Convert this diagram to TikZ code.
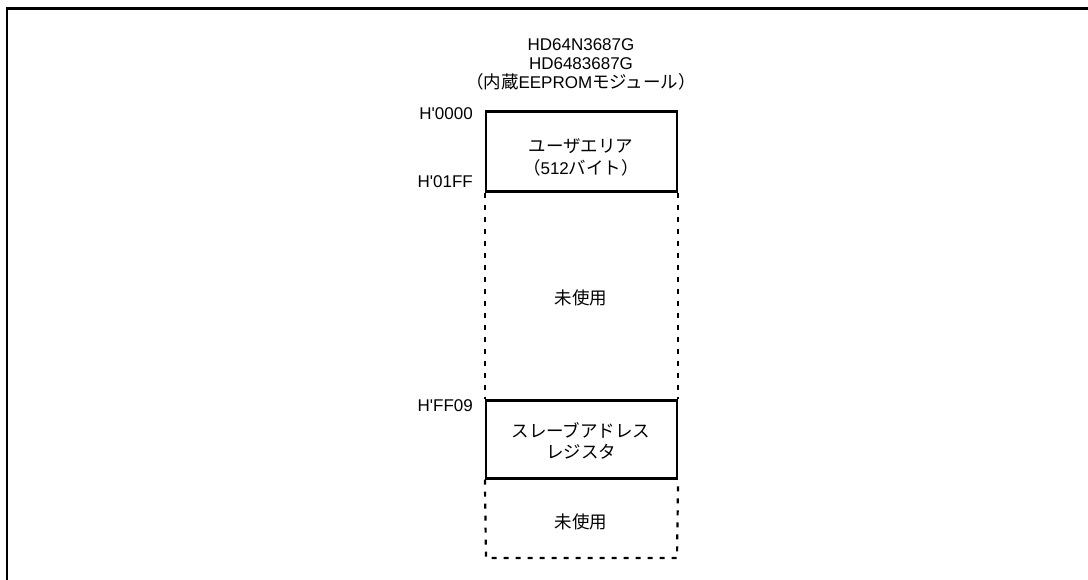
\documentclass[tikz,border=0pt]{standalone}
\usepackage{fontspec}
\newfontfamily\lat{Liberation Sans}
\newfontfamily\jp{Noto Sans CJK JP}
\newcommand\J[1]{{\fontsize{17.5}{19}\jp #1}}
\begin{document}
\begin{tikzpicture}[x=1pt,y=-1pt,
  lbl/.style={font=\fontsize{17}{19}\lat, inner sep=0pt},
  box/.style={draw, line width=2.2pt, minimum width=191pt, inner sep=0pt},
  dashline/.style={line width=2.2pt, dash pattern=on 5pt off 7pt},
  frame/.style={line width=2.4pt}]
\useasboundingbox (0,0) rectangle (1088,580);
\draw[frame] (7,600) -- (7,8.5) -- (1100,8.5);
% title
\node[lbl, align=center] (title) at (581,64.5) {HD64N3687G\\HD6483687G\\\J{（内蔵}EEPROM\J{モジュール）}};
% user area
\node[box, minimum height=80pt] (user) at (581.5,151.5) {};
\node[lbl, align=center, font=\fontsize{17}{22}\lat] (userlbl) at (581,157) {\J{ユーザエリア}\\\J{（}512\J{バイト）}};
% slave address register
\node[box, minimum height=78pt] (slave) at (581.5,439.5) {};
\node[lbl, align=center, font=\fontsize{17}{21.5}\lat] (slavelbl) at (581,441) {\J{スレーブアドレス}\\\J{レジスタ}};
% unused regions
\coordinate (botl) at (486,558);
\coordinate (botr) at (677,558);
\draw[dashline] (user.south west) -- (slave.north west);
\draw[dashline] (user.south east) -- (slave.north east);
\draw[dashline] (slave.south west) -- (botl) -- (botr) -- (slave.south east);
\node[lbl] (unused1) at (581,298) {\J{未使用}};
\node[lbl] (unused2) at (581,522) {\J{未使用}};
% addresses
\node[lbl, anchor=base east] (a0) at (473,119.5) {H'0000};
\node[lbl, anchor=base east] (a1) at (473,187.5) {H'01FF};
\node[lbl, anchor=base east] (a2) at (473,411.5) {H'FF09};
\end{tikzpicture}
\end{document}
